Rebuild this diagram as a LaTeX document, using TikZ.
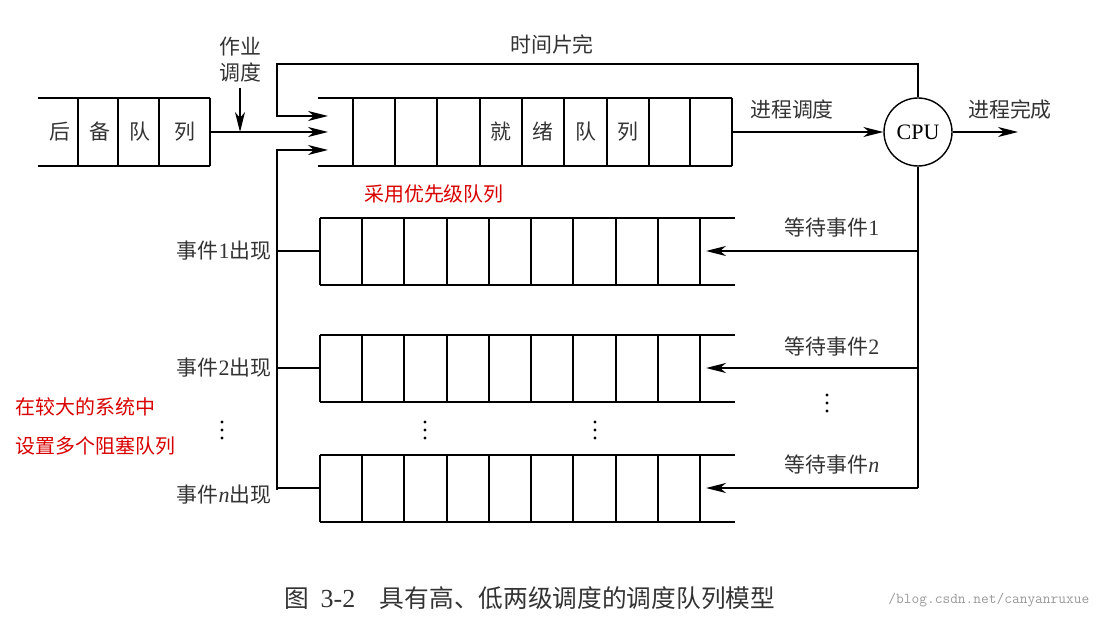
\documentclass[tikz,border=0pt]{standalone}
\usepackage{fontspec}
\setmainfont{Liberation Serif}
\newfontfamily\cjk{Noto Sans CJK SC}[Scale=0.95]
\usetikzlibrary{arrows.meta}
\begin{document}
\begin{tikzpicture}[x=1pt,y=-1pt,line width=1.4pt,
  lab/.style={font=\cjk\fontsize{22}{22}\selectfont,text=black!80,inner sep=0},
  red/.style={font=\cjk\fontsize{21}{21}\selectfont,text=red!85!black,inner sep=0},
  arr/.style={-{Stealth[length=20pt,width=10pt,inset=6pt]}}]
\useasboundingbox (0,0) rectangle (1097,620);
% backup queue
\draw (38,98)--(210,98) (38,166)--(210,166);
\foreach \x in {78,118,159,210} \draw (\x,98)--(\x,166);
\foreach \x/\t in {60/后,100/备,140/队,185/列} \node[lab] at (\x,132) {\t};
\coordinate (bq) at (210,132);
\coordinate (rin) at (328,132);
\draw[arr] (bq)--(rin);
\node[lab,align=center] (js) at (240,60) {作业\\[4pt]调度};
\coordinate (jsb) at (240,88);
\draw[arr] (jsb)--(240,132);
% ready queue
\draw (318,98)--(732,98) (318,166)--(732,166);
\foreach \x in {353,395,437,480,522,564,607,649,690,732} \draw (\x,98)--(\x,166);
\foreach \x/\t in {501/就,543/绪,586/队,628/列} \node[lab] at (\x,132) {\t};
% CPU
\node[draw,circle,minimum size=68pt,inner sep=0,font=\fontsize{22}{22}\selectfont] (cpu) at (918,132) {CPU};
\coordinate (rq) at (732,132);
\draw[arr] (rq)--(cpu.west);
\node[lab] at (792,110) {进程调度};
\coordinate (done) at (1018,132);
\draw[arr] (cpu.east)--(done);
\node[lab] at (1010,110) {进程完成};
% time slice loop
\coordinate (t1) at (328,116);
\draw[arr] (cpu.north)--(918,64)--(277,64)--(277,116)--(t1);
\node[lab] at (552,44) {时间片完};
\coordinate (t2) at (328,150);
\draw[arr] (277,490)--(277,150)--(t2);
% CPU down
\draw (cpu.south)--(918,488);
% blocked queues
\foreach \yt/\yc in {218/251,335/368,455/488}{
  \pgfmathsetmacro\yb{\yt+67}
  \draw (320,\yt)--(735,\yt) (320,\yb)--(735,\yb);
  \foreach \x in {320,362,404,447,489,531,573,616,658,700} \draw (\x,\yt)--(\x,\yb);
  \draw[arr] (918,\yc)--(706,\yc);
  \draw (277,\yc)--(320,\yc);
}
\node[lab] at (832,228) {等待事件\fontspec{Liberation Serif}1};
\node[lab] at (832,347) {等待事件\fontspec{Liberation Serif}2};
\node[lab] at (832,465) {等待事件\fontspec{Liberation Serif}\itshape n};
\node[lab,anchor=east] at (272,251) {事件\fontspec{Liberation Serif}1\cjk 出现};
\node[lab,anchor=east] at (272,368) {事件\fontspec{Liberation Serif}2\cjk 出现};
\node[lab,anchor=east] at (272,495) {事件\fontspec{Liberation Serif}\itshape n\cjk\upshape 出现};
\foreach \x/\y in {827/403,222/430,425/430,595/430}
  \foreach \d in {-8,0,8} \fill (\x,\y+\d) circle (1.6pt);
% red notes
\node[red] at (434,194) {采用优先级队列};
\node[red,anchor=west] at (15,407) {在较大的系统中};
\node[red,anchor=west] at (15,446) {设置多个阻塞队列};
% caption
\node[lab,font=\cjk\fontsize{26}{26}\selectfont] at (530,598) {图\ \ \fontspec{Liberation Serif}3-2\cjk\quad 具有高、低两级调度的调度队列模型};
\node[font=\ttfamily\fontsize{15}{15}\selectfont,text=black!40,anchor=east,inner sep=0] at (1090,600) {/blog.csdn.net/canyanruxue};
\end{tikzpicture}
\end{document}
